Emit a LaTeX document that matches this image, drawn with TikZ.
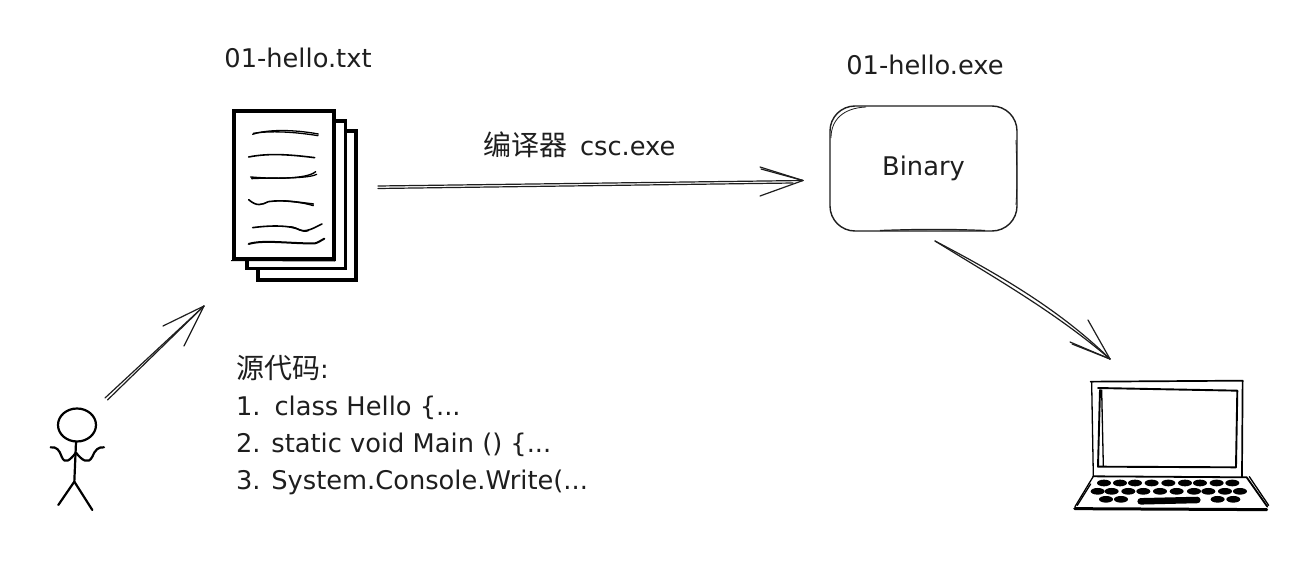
\documentclass[tikz,border=0pt]{standalone}
\usepackage{fontspec}
\setmainfont{DejaVu Sans}
\newfontfamily\cjk{Noto Sans CJK SC}
\newcommand{\cjktext}[1]{{\cjk\fontsize{28}{37}\selectfont #1}}
\usetikzlibrary{calc,shapes.geometric}
\definecolor{ink}{HTML}{1E1E1E}
\tikzset{
  label text/.style={font=\fontsize{25.7}{37}\selectfont, text=ink, inner sep=0pt, outer sep=0pt},
  thin ink/.style={draw=ink, line width=1.2pt, line cap=round, line join=round},
  sheet/.style={draw=black, line width=3.4pt, fill=white, line join=miter},
  scribble/.style={draw=black, line width=1.3pt, line cap=round},
  figure line/.style={draw=black, line width=2.2pt, line cap=round, line join=round},
  lid/.style={draw=black, line width=1.3pt, line cap=round, line join=round},
  key/.style={fill=black, draw=none},
  binary box/.style={draw=ink, line width=1.4pt, rounded corners=25pt, fill=white, minimum width=187pt, minimum height=125pt, inner sep=0pt, font=\fontsize{25.7}{28}\selectfont, text=ink},
  page box/.style={sheet, line width=4pt, minimum width=100pt, minimum height=148pt, inner sep=0pt}
}
\begin{document}
\begin{tikzpicture}[x=1pt,y=-1pt]
\useasboundingbox (0,0) rectangle (1302,586);
\fill[white] (0,0) rectangle (1302,586);

% stacked pages
\draw[sheet] (258,131) rectangle (356,280);
\draw[sheet] (247,121) rectangle (345.5,268.5);
\node[page box] (page) at (283.5,185) {};
\draw[black,line width=1pt] (231,260.5) -- (335,261);

% scribbled lines of text (zoom coordinates)
\begin{scope}[shift={(200,90)},x=0.3333pt,y=-0.3333pt]
\draw[scribble] (158,133) .. controls (200,118) and (280,118) .. (355,132);
\draw[scribble] (160,130) .. controls (210,122) and (280,125) .. (354,137);
\draw[scribble,line width=1.6pt] (146,201) .. controls (210,188) and (280,195) .. (344,203);
\draw[scribble,line width=1.4pt] (152,261) .. controls (220,267) and (320,268) .. (347,245);
\draw[scribble] (155,266) .. controls (220,262) and (320,268) .. (350,253);
\draw[scribble,line width=1.6pt] (146,329) .. controls (170,350) and (185,345) .. (205,335) .. controls (250,328) and (300,338) .. (340,342);
\draw[scribble] (230,332) .. controls (270,332) and (310,338) .. (340,347);
\draw[scribble,line width=1.6pt] (158,413) .. controls (210,406) and (270,405) .. (300,420) .. controls (320,428) and (345,412) .. (366,402);
\draw[scribble] (270,410) .. controls (295,412) and (305,430) .. (325,422);
\draw[scribble,line width=2pt] (146,462) .. controls (190,448) and (280,462) .. (345,460) .. controls (355,458) and (365,450) .. (373,446);
\end{scope}

% binary box
\node[binary box] (binary) at (923.5,168.5) {Binary};
\draw[ink,line width=0.8pt] (831,138) .. controls (831,120) and (843,108) .. (866,107);
\draw[ink,line width=0.8pt] (1016,140) .. controls (1017,170) and (1017,190) .. (1016,205);
\draw[ink,line width=1.2pt] (880,230.5) .. controls (920,229) and (950,229) .. (985,230.5);

% texts
\node[label text] (srcname) at (298,58) {01-hello.txt};
\node[label text] (exename) at (925,65) {01-hello.exe};
\node[label text,anchor=base west] (compiler) at (483,155) {\cjktext{编译器}\hspace{13pt}csc.exe};
\node[label text,anchor=north west,align=left] (source) at (236,355) {\cjktext{源代码}:\\1.\hspace{14pt}class Hello \{...\\2. static void Main () \{...\\3. System.Console.Write(...};

% arrows
\coordinate (aStart) at (378,186);
\coordinate (aEnd) at (803,180.5);
\coordinate (bStart) at (935,241);
\coordinate (bEnd) at (1110,359);
\coordinate (cStart) at (105,398);
\coordinate (cEnd) at (204,306);
\draw[thin ink] (aStart) -- (aEnd);
\draw[thin ink] ($(aStart)+(0,2.5)$) -- ($(aEnd)+(-10,2.5)$);
\draw[thin ink] (aEnd) -- (760,167);
\draw[thin ink] (aEnd) -- (760,196);
\draw[thin ink] (aEnd) -- (761,169);
\draw[thin ink] (bStart) .. controls (1000,275) and (1060,310) .. (bEnd);
\draw[thin ink] (bStart) .. controls (995,278) and (1055,312) .. (bEnd);
\draw[thin ink] (bEnd) -- (1070,342);
\draw[thin ink] (bEnd) -- (1072,344);
\draw[thin ink] (bEnd) -- (1088,320);
\draw[thin ink] (cStart) -- (cEnd);
\draw[thin ink] ($(cStart)+(2.5,2)$) -- (cEnd);
\draw[thin ink] (cEnd) -- (163,326);
\draw[thin ink] (cEnd) -- (184,346);

% person
\node[draw=black,line width=2.2pt,ellipse,minimum width=38pt,minimum height=33pt,inner sep=0pt] (head) at (77,425) {};
\begin{scope}[shift={(30,300)},x=0.3333pt,y=-0.3333pt]
\draw[figure line] (138,427) -- (133,545) -- (85,615);
\draw[figure line] (133,545) -- (187,630);
\draw[figure line] (138,458) .. controls (120,480) and (105,495) .. (95,470) .. controls (88,450) and (80,440) .. (62,442);
\draw[figure line] (138,458) .. controls (155,480) and (175,495) .. (187,470) .. controls (195,450) and (205,440) .. (222,442);
\end{scope}

% laptop
\begin{scope}[shift={(1060,360)},x=0.3333pt,y=-0.3333pt]
\draw[lid,line width=1.7pt] (92,65) -- (548,62) -- (546,350);
\draw[lid] (95,68) -- (100,350);
\draw[lid,line width=1.9pt] (114,84) -- (532,92) -- (528,322) -- (114,320) -- (120,90);
\draw[lid] (125,90) -- (130,318);
\draw[lid,line width=1.8pt] (100,349) -- (560,352) -- (622,440);
\draw[lid] (568,350) -- (626,436);
\draw[lid] (100,349) -- (45,440);
\draw[lid] (92,372) -- (52,436);
\draw[lid,line width=3pt] (44,446) -- (620,449);
\foreach \kx in {132,180,225,275,325,375,420,470,517}
  \fill[key] (\kx,369) ellipse (21 and 10);
\foreach \kx in {113,155,205,250,300,350,402,445,495,540}
  \fill[key] (\kx,394) ellipse (21 and 10);
\foreach \kx in {138,183,473,520}
  \fill[key] (\kx,418) ellipse (21 and 10);
\draw[black,line width=6.5pt,line cap=round] (242,424) -- (412,420);
\end{scope}
\end{tikzpicture}
\end{document}
